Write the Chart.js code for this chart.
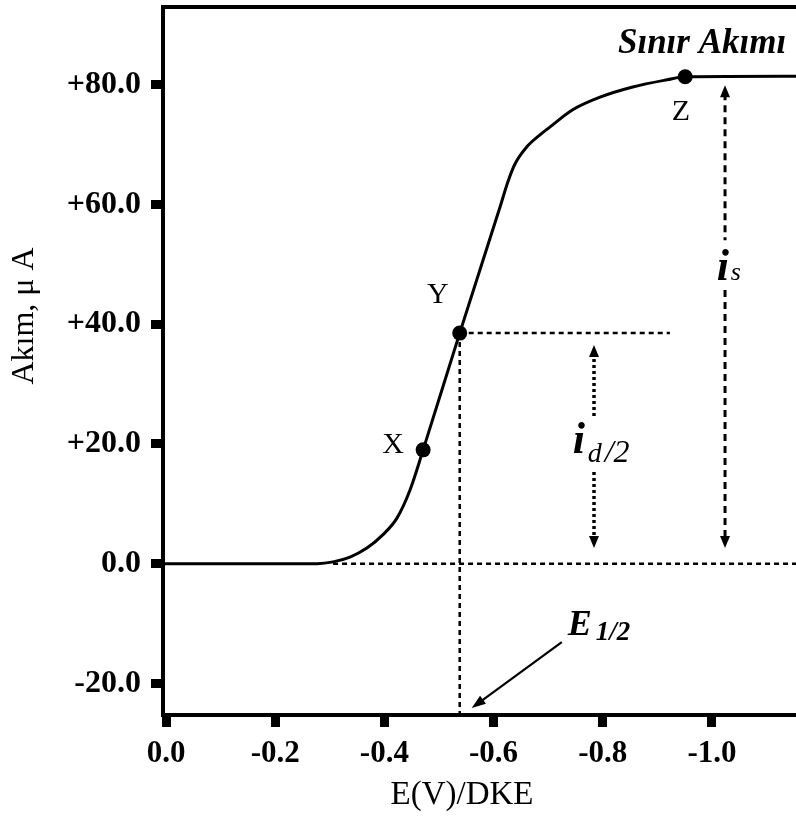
<!DOCTYPE html>
<html>
<head>
<meta charset="utf-8">
<script src="https://cdn.jsdelivr.net/npm/chart.js@4.4.1/dist/chart.umd.min.js"></script>
<style>
  html, body { margin: 0; padding: 0; background: #fff; }
  #wrap { width: 796px; height: 821px; }
</style>
</head>
<body>
<div id="wrap"><canvas id="c" width="796" height="821"></canvas></div>
<script>
// Polarographic wave: current (µA) against potential E(V) vs. DKE
const potential = [0.0055, -0.277, -0.306, -0.337, -0.368, -0.397, -0.423, -0.447, -0.471, -0.538,
                   -0.612, -0.626, -0.639, -0.661, -0.685, -0.703, -0.745, -0.795, -0.855, -0.918,
                   -0.951, -1.154];
const current   = [0, 0, 0.3, 1.1, 2.6, 4.8, 7.6, 12.3, 19.0, 38.5,
                   59.6, 63.7, 66.7, 69.6, 71.6, 72.9, 75.8, 77.9, 79.6, 80.8,
                   81.3, 81.4];

// Marked points on the wave
const pointNames = ['X', 'Y', 'Z'];
const pointE     = [-0.471, -0.538, -0.951];
const pointI     = [19.0, 38.5, 81.3];

// Tick values
const xTicks = [0, -0.2, -0.4, -0.6, -0.8, -1.0];
const yTicks = [-20, 0, 20, 40, 60, 80];

// Axis ranges
const xRange = [-1.154, 0.0055];
const yRange = [-25.27, 92.95];

// Guide lines
const baselineFromE = -0.306;      // dotted zero-current line start
const halfLineToE   = -0.923;      // dotted line at the half-wave current
const idArrowE = -0.784, idArrowTop = 36.5, idArrowBottom = 2.6, idGap = [24.3, 15.3];
const isArrowE = -1.024, isArrowTop = 79.9, isArrowBottom = 2.6, isGap = [54.0, 45.7];
const e12Arrow = { fromE: -0.725, fromI: -13.1, toE: -0.560, toI: -24.1 };

const SERIF = '"Liberation Serif", "Times New Roman", serif';

const yHalf = pointI[1];
const eHalf = pointE[1];

const annotations = {
  id: 'annotations',
  afterDraw(chart) {
    const { ctx, chartArea, scales: { x, y } } = chart;
    const px = v => x.getPixelForValue(v);
    const py = v => y.getPixelForValue(v);
    ctx.save();

    // top frame line
    ctx.strokeStyle = '#000';
    ctx.lineWidth = 4;
    ctx.beginPath();
    ctx.moveTo(chartArea.left - 2, chartArea.top);
    ctx.lineTo(chartArea.right, chartArea.top);
    ctx.stroke();

    function head(xp, yp, dir, len, half) {
      // dir: -1 points up, +1 points down
      ctx.setLineDash([]);
      ctx.beginPath();
      ctx.moveTo(xp, yp);
      ctx.lineTo(xp - half, yp - dir * len);
      ctx.lineTo(xp + half, yp - dir * len);
      ctx.closePath();
      ctx.fill();
    }
    function vArrow(e, top, bottom, gap, dash, width) {
      const xp = px(e);
      ctx.fillStyle = '#000';
      ctx.strokeStyle = '#000';
      ctx.lineWidth = width;
      ctx.setLineDash(dash);
      ctx.beginPath();
      ctx.moveTo(xp, py(top) + 8);
      ctx.lineTo(xp, py(gap[0]));
      ctx.moveTo(xp, py(gap[1]));
      ctx.lineTo(xp, py(bottom) - 8);
      ctx.stroke();
      head(xp, py(top), -1, 12, 5);
      head(xp, py(bottom), 1, 12, 5);
    }
    vArrow(idArrowE, idArrowTop, idArrowBottom, idGap, [3, 3], 3.5);
    vArrow(isArrowE, isArrowTop, isArrowBottom, isGap, [7, 5], 3);

    // arrow pointing at E1/2 on the potential axis
    {
      const x1 = px(e12Arrow.fromE), y1 = py(e12Arrow.fromI);
      const x2 = px(e12Arrow.toE), y2 = py(e12Arrow.toI);
      const ang = Math.atan2(y2 - y1, x2 - x1);
      ctx.setLineDash([]);
      ctx.lineWidth = 2.2;
      ctx.beginPath();
      ctx.moveTo(x1, y1);
      ctx.lineTo(x2 - 10 * Math.cos(ang), y2 - 10 * Math.sin(ang));
      ctx.stroke();
      ctx.beginPath();
      ctx.moveTo(x2, y2);
      ctx.lineTo(x2 - 14 * Math.cos(ang) + 5 * Math.sin(ang), y2 - 14 * Math.sin(ang) - 5 * Math.cos(ang));
      ctx.lineTo(x2 - 14 * Math.cos(ang) - 5 * Math.sin(ang), y2 - 14 * Math.sin(ang) + 5 * Math.cos(ang));
      ctx.closePath();
      ctx.fill();
    }

    ctx.fillStyle = '#000';
    ctx.textBaseline = 'alphabetic';

    // point names
    ctx.font = '30px ' + SERIF;
    ctx.textAlign = 'center';
    ctx.fillText(pointNames[0], px(-0.416), py(18.5));
    ctx.fillText(pointNames[1], px(-0.498), py(43.5));
    ctx.fillText(pointNames[2], px(-0.943), py(74.1));

    // limiting current label
    ctx.font = 'italic bold 35px ' + SERIF;
    ctx.fillText('Sınır Akımı', px(-0.982), py(85.3));

    ctx.textAlign = 'left';
    // i_d / 2
    {
      const bx = px(-0.745), by = py(18.5);
      ctx.font = 'italic bold 44px ' + SERIF;
      ctx.fillText('i', bx, by);
      ctx.font = 'italic 28px ' + SERIF;
      ctx.fillText('d', bx + 15, by + 9);
      ctx.font = 'italic 32px ' + SERIF;
      ctx.fillText('/2', bx + 32, by + 9);
    }
    // i_s
    {
      const bx = px(-1.009), by = py(47.4);
      ctx.font = 'italic bold 44px ' + SERIF;
      ctx.fillText('i', bx, by);
      ctx.font = 'italic 26px ' + SERIF;
      ctx.fillText('s', bx + 14, by);
    }
    // E1/2
    {
      const bx = px(-0.736), by = py(-11.9);
      ctx.font = 'italic bold 36px ' + SERIF;
      ctx.fillText('E', bx, by);
      ctx.font = 'italic bold 27px ' + SERIF;
      ctx.fillText('1/2', bx + 28, by + 5);
    }

    // axis titles
    ctx.font = '33px ' + SERIF;
    ctx.textAlign = 'center';
    ctx.textBaseline = 'middle';
    ctx.fillText('E(V)/DKE', 462, 795);
    ctx.save();
    ctx.translate(25, 316);
    ctx.rotate(-Math.PI / 2);
    ctx.font = '32px ' + SERIF;
    ctx.fillText('Akım, μ A', 0, 0);
    ctx.restore();

    ctx.restore();
  }
};

const dotted = { borderColor: '#000', borderWidth: 2.5, borderDash: [5, 4], pointRadius: 0, fill: false, tension: 0 };

new Chart(document.getElementById('c').getContext('2d'), {
  type: 'line',
  data: {
    datasets: [
      { ...dotted, data: [{ x: baselineFromE, y: 0 }, { x: xRange[0], y: 0 }] },
      { ...dotted, data: [{ x: eHalf, y: yHalf }, { x: halfLineToE, y: yHalf }] },
      { ...dotted, data: [{ x: eHalf, y: yHalf }, { x: eHalf, y: yRange[0] }] },
      {
        data: potential.map((e, i) => ({ x: e, y: current[i] })),
        borderColor: '#000', borderWidth: 3, pointRadius: 0,
        cubicInterpolationMode: 'monotone', fill: false
      },
      {
        data: pointE.map((e, i) => ({ x: e, y: pointI[i] })),
        showLine: false, pointRadius: 7.5, pointBackgroundColor: '#000',
        pointBorderWidth: 0, pointHoverRadius: 7.5
      }
    ]
  },
  options: {
    responsive: false,
    animation: false,
    events: [],
    layout: { autoPadding: false, padding: { top: 7, right: 0, left: 0, bottom: 0 } },
    plugins: { legend: { display: false }, tooltip: { enabled: false } },
    scales: {
      x: {
        type: 'linear',
        reverse: true,
        min: xRange[0], max: xRange[1],
        afterBuildTicks: s => { s.ticks = xTicks.map(v => ({ value: v })); },
        afterFit: s => { s.height = 106; s.paddingLeft = 0; s.paddingRight = 0; },
        grid: { drawOnChartArea: false, tickLength: 12, tickWidth: 9, tickColor: '#000' },
        border: { display: true, color: '#000', width: 4 },
        ticks: {
          color: '#000', padding: 8, maxRotation: 0, autoSkip: false,
          font: { family: SERIF, size: 31, weight: 'bold' },
          callback: v => (v === 0 ? '0.0' : v.toFixed(1))
        }
      },
      y: {
        type: 'linear',
        min: yRange[0], max: yRange[1],
        afterBuildTicks: s => { s.ticks = yTicks.map(v => ({ value: v })); },
        afterFit: s => { s.width = 163; s.paddingTop = 0; s.paddingBottom = 0; },
        grid: { drawOnChartArea: false, tickLength: 12, tickWidth: 9, tickColor: '#000' },
        border: { display: true, color: '#000', width: 4 },
        ticks: {
          color: '#000', padding: 10, autoSkip: false,
          font: { family: SERIF, size: 32, weight: 'bold' },
          callback: v => (v > 0 ? '+' + v.toFixed(1) : v.toFixed(1))
        }
      }
    }
  },
  plugins: [annotations]
});
</script>
</body>
</html>
